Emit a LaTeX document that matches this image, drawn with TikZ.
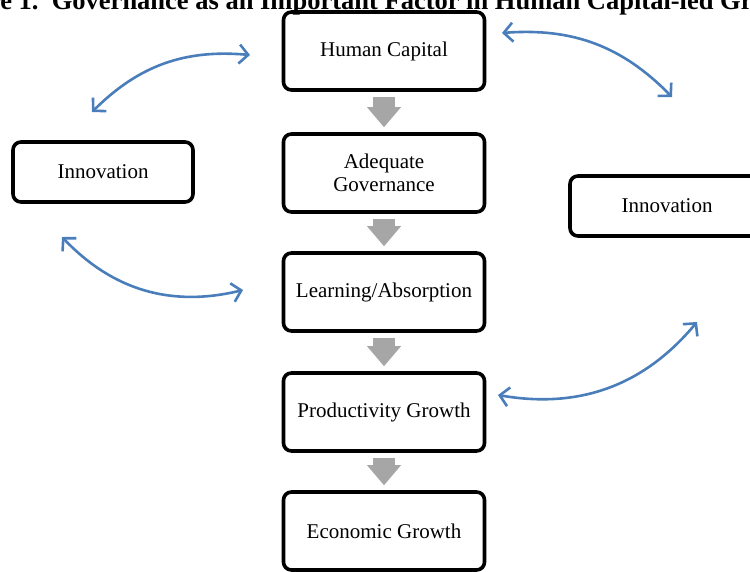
\documentclass[tikz,border=0pt]{standalone}
\usepackage{fontspec}
\setmainfont{Liberation Serif}
\usetikzlibrary{arrows.meta}

\definecolor{flowgray}{RGB}{166,166,166}
\definecolor{linkblue}{RGB}{74,126,187}

\tikzset{
	box/.style={shape=rectangle, draw=black, line width=3.6pt, rounded corners=8pt, align=center, font=\fontsize{21}{23}\selectfont},
	mainbox/.style={box, minimum width=201pt, minimum height=78pt},
	sidebox/.style={box, minimum height=60pt},
	flowarrow/.style={color=flowgray, line width=22pt, -{Triangle[length=20pt,width=34pt,line width=0pt]}, shorten <=5pt, shorten >=5pt},
	twoway/.style={color=linkblue, line width=2.6pt, {Straight Barb[length=9pt,width=19pt]}-{Straight Barb[length=9pt,width=19pt]}}
}

\begin{document}
\begin{tikzpicture}[x=1pt, y=-1pt]
	
	\useasboundingbox (0, 0) rectangle (750, 571);
	
	\node[anchor=base west, font=\fontsize{26.5}{28}\selectfont\bfseries] (title) at (-66, 9) {Figure 1.\ \ Governance as an Important Factor in Human Capital-led Growth};
	
	\node[mainbox] (hc) at (384, 51)     {Human Capital};
	\node[mainbox] (ag) at (384, 173)    {Adequate\\Governance};
	\node[mainbox] (la) at (384, 292)    {Learning/Absorption};
	\node[mainbox] (pg) at (384, 412)    {Productivity Growth};
	\node[mainbox] (eg) at (384, 531)    {Economic Growth};
	\node[sidebox, minimum width=180pt] (innl) at (103, 172)    {Innovation};
	\node[sidebox, minimum width=194pt] (innr) at (667, 206)    {Innovation};
	
	\path[flowarrow] (hc) edge (ag);
	\path[flowarrow] (ag) edge (la);
	\path[flowarrow] (la) edge (pg);
	\path[flowarrow] (pg) edge (eg);
	
	% free ends of the blue links
	\coordinate (hcl) at (250, 55);
	\coordinate (innlt) at (92, 112);
	\coordinate (innlb) at (62, 237);
	\coordinate (lal) at (243, 290);
	\coordinate (hcr) at (502, 33);
	\coordinate (innrt) at (672, 97);
	\coordinate (pgr) at (498, 395);
	\coordinate (innrb) at (697, 322);
	
	\path[twoway] (hcl) edge [bend right=25] (innlt);
	\path[twoway] (innlb) edge [bend right=30] (lal);
	\path[twoway] (hcr) edge [bend left=25] (innrt);
	\path[twoway] (pgr) edge [bend right=30] (innrb);
	
\end{tikzpicture}
\end{document}
